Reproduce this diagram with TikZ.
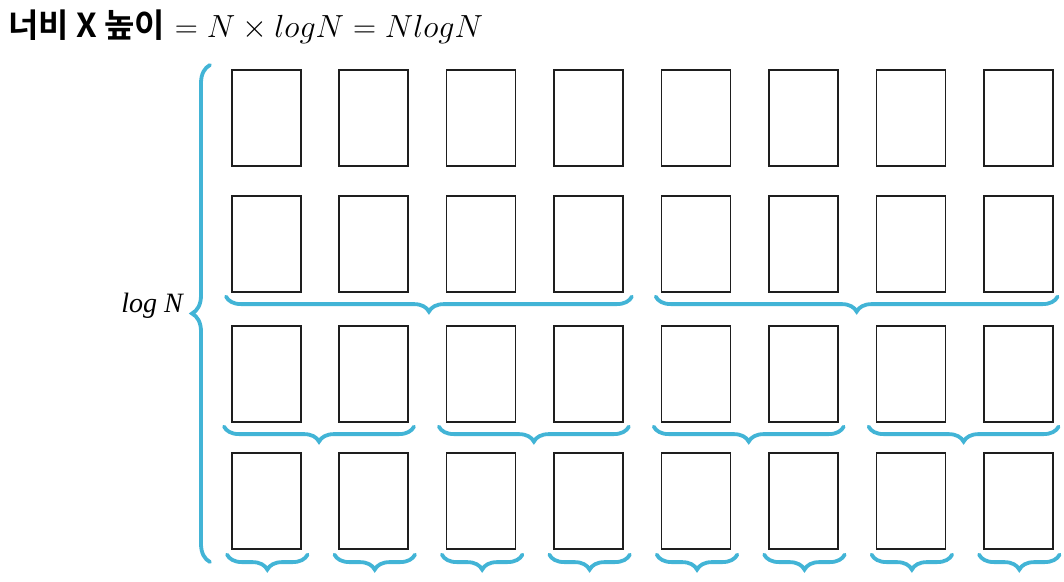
\RequirePackage{fix-cm}
\documentclass[tikz,border=0pt]{standalone}
\usepackage{fontspec}
\newfontfamily\kr{Noto Sans CJK KR}[BoldFont={Noto Sans CJK KR Bold}]
\newfontfamily\lbfont{Liberation Serif}
\usetikzlibrary{decorations.pathreplacing,calc}
\definecolor{bracecol}{RGB}{66,180,214}
\definecolor{boxcol}{RGB}{30,30,30}
\begin{document}
\begin{tikzpicture}[x=1pt,y=-1pt,
  box/.style={draw=boxcol,line width=1.6pt,minimum width=69pt,minimum height=96pt,inner sep=0pt,anchor=north west},
  brc/.style={draw=bracecol,line width=3.8pt,line cap=round,decorate,decoration={brace,mirror,amplitude=15pt}},
  bigbrc/.style={draw=bracecol,line width=3.8pt,line cap=round,decorate,decoration={brace,amplitude=18pt}}]
\useasboundingbox (0,0) rectangle (1064,581);
\fill[white] (0,0) rectangle (1064,581);
% title
\node[anchor=base west,inner sep=0pt] (title) at (8,37)
  {{\fontsize{33}{38}\selectfont\kr\bfseries 너비 X 높이}\fontsize{32}{36}\selectfont\ $= N\times logN = NlogN$};
% boxes
\foreach \r/\y in {1/69,2/195,3/325,4/452}{
  \foreach \c in {1,...,8}{
    \pgfmathsetmacro\x{231+107.43*(\c-1)}
    \node[box] (b\r\c) at (\x,\y) {};
  }
}
% left brace and label
\coordinate (lbtop) at (210,65);
\coordinate (lbbot) at (210,562);
\draw[bigbrc] (lbbot) -- (lbtop);
\node[anchor=base east,inner sep=0pt] (lbl) at (183,312) {\fontsize{28}{32}\selectfont\lbfont\itshape log N};
% row 4 braces (single boxes)
\foreach \c in {1,...,8}{
  \draw[brc] ($(b4\c.south west)+(-4,5)$) -- ($(b4\c.south east)+(6,5)$);
}
% row 3 braces (pairs)
\foreach \c/\d in {1/2,3/4,5/6,7/8}{
  \draw[brc] ($(b3\c.south west)+(-7,4)$) -- ($(b3\d.south east)+(5,4)$);
}
% row 2 braces (quadruples)
\draw[brc] ($(b21.south west)+(-5,4)$) -- ($(b24.south east)+(8,4)$);
\draw[brc] ($(b25.south west)+(-5,4)$) -- ($(b28.south east)+(4,4)$);
\end{tikzpicture}
\end{document}
